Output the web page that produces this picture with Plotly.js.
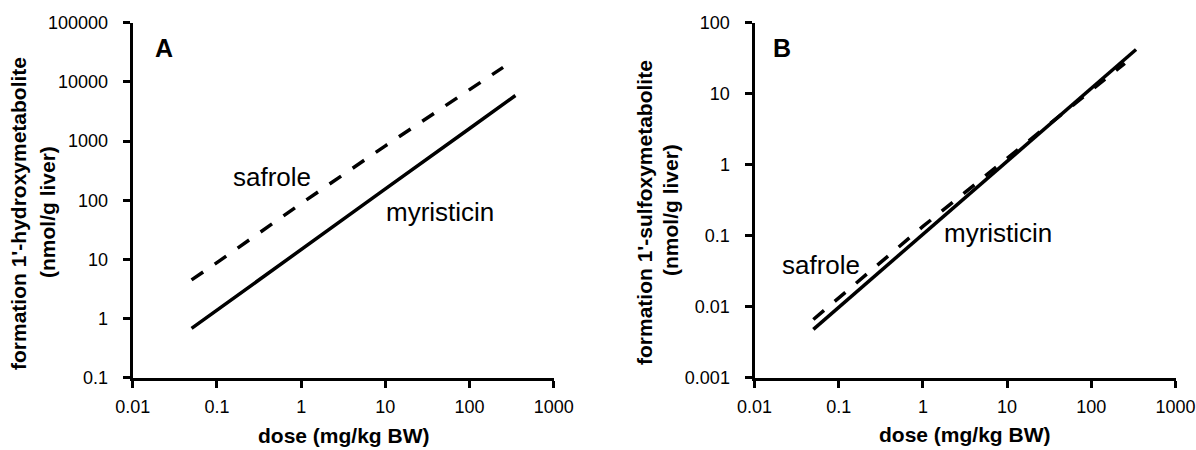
<!DOCTYPE html>
<html>
<head>
<meta charset="utf-8">
<script src="https://cdn.plot.ly/plotly-3.0.1.min.js"></script>
<style>html,body{margin:0;padding:0;background:#fff;}#chart{width:1196px;height:450px;}</style>
</head>
<body>
<div id="chart"></div>
<script>
// Panel A: formation 1'-hydroxymetabolite (nmol/g liver)
const doseSafroleA = [0.05, 0.1, 1, 10, 100, 250];
const safroleA = [4.5, 8.8, 88, 830, 7400, 17600];
const doseMyristicinA = [0.05, 0.1, 1, 10, 100, 350];
const myristicinA = [0.68, 1.39, 14.7, 155, 1630, 5890];

// Panel B: formation 1'-sulfoxymetabolite (nmol/g liver)
const doseSafroleB = [0.05, 0.1, 1, 10, 100, 250];
const safroleB = [0.0066, 0.0133, 0.135, 1.23, 11.2, 26.8];
const doseMyristicinB = [0.05, 0.1, 1, 10, 100, 340];
const myristicinB = [0.0048, 0.0098, 0.104, 1.12, 11.9, 42];

const xTickVals = [0.01, 0.1, 1, 10, 100, 1000];
const xTickText = ["0.01", "0.1", "1", "10", "100", "1000"];
const yTickValsA = [0.1, 1, 10, 100, 1000, 10000, 100000];
const yTickTextA = ["0.1", "1", "10", "100", "1000", "10000", "100000"];
const yTickValsB = [0.001, 0.01, 0.1, 1, 10, 100];
const yTickTextB = ["0.001", "0.01", "0.1", "1", "10", "100"];

const FONT = "Liberation Sans, Arial, sans-serif";
const W = 1196, H = 450;
const px = v => v / W;
const py = v => 1 - v / H;

const dashStyle = {color: "#000", width: 3.5, dash: "14px,14px"};
const solidStyle = {color: "#000", width: 3.5};

const traces = [
  {x: doseSafroleA, y: safroleA, mode: "lines", line: dashStyle, xaxis: "x", yaxis: "y", name: "safrole"},
  {x: doseMyristicinA, y: myristicinA, mode: "lines", line: solidStyle, xaxis: "x", yaxis: "y", name: "myristicin"},
  {x: doseSafroleB, y: safroleB, mode: "lines", line: dashStyle, xaxis: "x2", yaxis: "y2", name: "safrole"},
  {x: doseMyristicinB, y: myristicinB, mode: "lines", line: solidStyle, xaxis: "x2", yaxis: "y2", name: "myristicin"}
];

const axisCommon = {
  type: "log", showgrid: false, zeroline: false, showline: true,
  linecolor: "#000", linewidth: 3, ticks: "outside", ticklen: 7, tickwidth: 3,
  tickcolor: "#000", tickmode: "array", tickfont: {family: FONT, size: 18, color: "#000"}
};

const yTop = py(22.7), yBot = py(377.7);

const ann = (text, x, y, size, extra) => Object.assign({
  text: text, x: px(x), y: py(y), xref: "paper", yref: "paper", showarrow: false,
  font: {family: FONT, size: size, color: "#000"}, xanchor: "center", yanchor: "middle"
}, extra || {});

const layout = {
  width: W, height: H,
  margin: {l: 0, r: 0, t: 0, b: 0},
  paper_bgcolor: "#fff", plot_bgcolor: "#fff",
  showlegend: false,
  xaxis: Object.assign({}, axisCommon, {domain: [px(132.7), px(553.8)], range: [-2, 3], tickvals: xTickVals, ticktext: xTickText, anchor: "y", ticklabelstandoff: 4}),
  yaxis: Object.assign({}, axisCommon, {domain: [yBot, yTop], range: [-1, 5], tickvals: yTickValsA, ticktext: yTickTextA, anchor: "x", ticklabelstandoff: 11}),
  xaxis2: Object.assign({}, axisCommon, {domain: [px(754.5), px(1175.5)], range: [-2, 3], tickvals: xTickVals, ticktext: xTickText, anchor: "y2", ticklabelstandoff: 4}),
  yaxis2: Object.assign({}, axisCommon, {domain: [yBot, yTop], range: [-3, 2], tickvals: yTickValsB, ticktext: yTickTextB, anchor: "x2", ticklabelstandoff: 11}),
  annotations: [
    ann("<b>A</b>", 164, 48, 25),
    ann("<b>B</b>", 782, 48, 25),
    ann("safrole", 272, 177, 26),
    ann("myristicin", 440, 212, 26),
    ann("safrole", 821, 265, 26),
    ann("myristicin", 998, 233, 26),
    ann("<b>dose (mg/kg BW)</b>", 343.5, 435, 21),
    ann("<b>dose (mg/kg BW)</b>", 965, 434, 21),
    ann("<b>formation 1'-hydroxymetabolite</b>", 19, 214, 21, {textangle: -90}),
    ann("<b>(nmol/g liver)</b>", 48, 212, 21, {textangle: -90}),
    ann("<b>formation 1'-sulfoxymetabolite</b>", 644, 213, 21, {textangle: -90}),
    ann("<b>(nmol/g liver)</b>", 670, 210, 21, {textangle: -90})
  ]
};

Plotly.newPlot("chart", traces, layout, {displayModeBar: false, staticPlot: true});
</script>
</body>
</html>
